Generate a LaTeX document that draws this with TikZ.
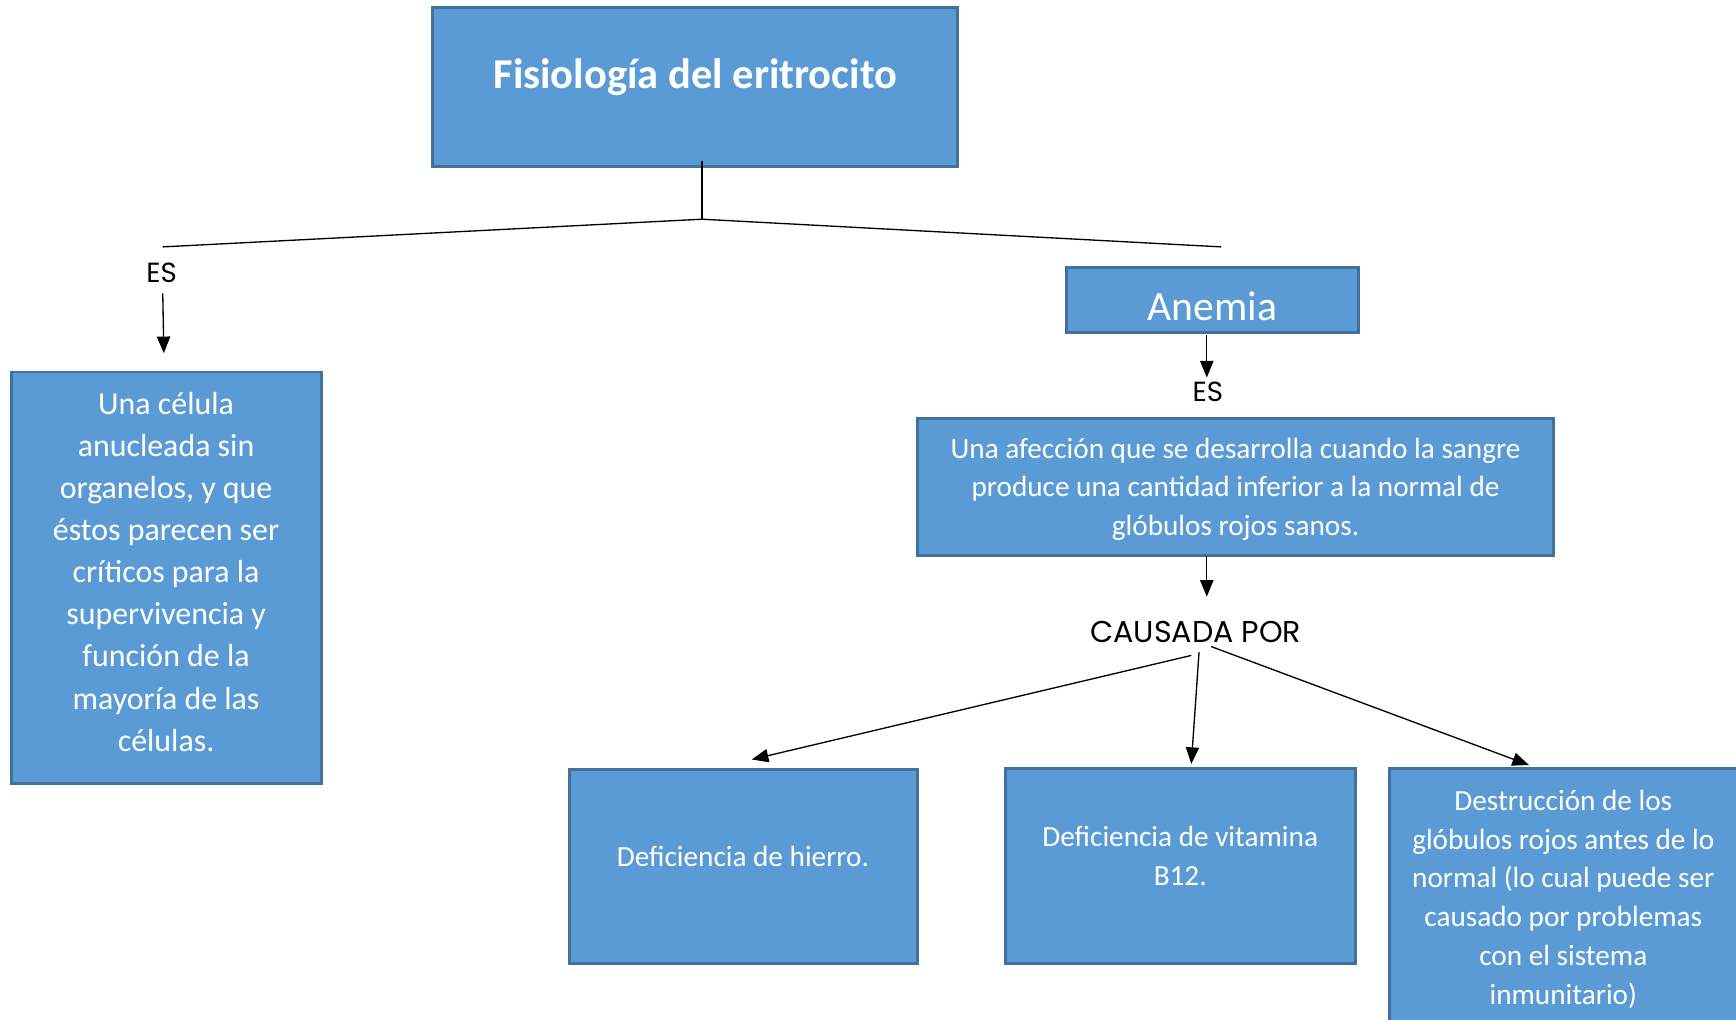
\documentclass[tikz,border=0pt]{standalone}
\usepackage{fontspec}
\setmainfont{Carlito}
\newfontfamily\gothic{Poppins}
\usetikzlibrary{arrows.meta}
\definecolor{boxfill}{HTML}{5B9BD5}
\definecolor{boxline}{HTML}{41719C}
\tikzset{
  box/.style={draw=boxline, fill=boxfill, line width=1.3pt, inner sep=0pt},
  txt/.style={text=white, align=center, inner sep=0pt},
  lbl/.style={inner sep=0pt, font=\gothic\fontsize{12.5}{14}\selectfont},
  conn/.style={line width=0.6pt},
  arr/.style={line width=0.6pt, -{Triangle[length=7.5pt, width=6pt]}},
}
\begin{document}
\begin{tikzpicture}[x=0.5pt, y=-0.5pt]
\useasboundingbox (0,0) rectangle (1568,920.4);
% boxes
\node[box, minimum width=237pt, minimum height=71.5pt] (top) at (628,78.5) {};
\node[txt, font=\bfseries\fontsize{19.2}{23}\selectfont] (toptext) at (628,70) {Fisiología del eritrocito};
\node[box, minimum width=140pt, minimum height=186pt] (left) at (150.5,522) {};
\node[txt, font=\fontsize{14.4}{19}\selectfont] (lefttext) at (150,516.5) {Una célula\\anucleada sin\\organelos, y que\\éstos parecen ser\\críticos para la\\supervivencia y\\función de la\\mayoría de las\\células.};
\node[box, minimum width=132pt, minimum height=29pt] (anemia) at (1095,271) {};
\node[txt, font=\fontsize{18.8}{22}\selectfont] (anemiatext) at (1095,277) {Anemia};
\node[box, minimum width=287pt, minimum height=62pt] (afec) at (1116,440) {};
\node[txt, font=\fontsize{13.2}{17.5}\selectfont] (afectext) at (1116,442) {Una afección que se desarrolla cuando la sangre\\produce una cantidad inferior a la normal de\\glóbulos rojos sanos.};
\node[box, minimum width=157.5pt, minimum height=87.5pt] (hierro) at (671.5,782.5) {};
\node[txt, font=\fontsize{13.2}{17.5}\selectfont] (hierrotext) at (671,774) {Deficiencia de hierro.};
\node[box, minimum width=158pt, minimum height=88pt] (vita) at (1066,782) {};
\node[txt, font=\fontsize{13.2}{17.5}\selectfont] (vitatext) at (1066,773) {Deficiencia de vitamina\\B12.};
\node[box, minimum width=165pt, minimum height=125pt] (destr) at (1420,819) {};
\node[txt, font=\fontsize{13.2}{17.5}\selectfont] (destrtext) at (1412,812) {Destrucción de los\\glóbulos rojos antes de lo\\normal (lo cual puede ser\\causado por problemas\\con el sistema\\inmunitario)};
% labels
\node[lbl] (es1) at (146,246) {ES};
\node[lbl] (es2) at (1091,354) {ES};
\node[lbl, font=\gothic\fontsize{13.6}{15}\selectfont] (causa) at (1080,571) {CAUSADA POR};
% connector points
\coordinate (jt) at (634,145);
\coordinate (j) at (634,198);
\coordinate (lend) at (147,223);
\coordinate (rend) at (1103,223);
\coordinate (a1s) at (147,265);
\coordinate (a1e) at (148,319);
\coordinate (a2s) at (1090,303);
\coordinate (a2e) at (1090,341);
\coordinate (a3s) at (1090,502);
\coordinate (a3e) at (1090,539);
\coordinate (c1s) at (1076,592);
\coordinate (c1e) at (679,686);
\coordinate (c2s) at (1083,589);
\coordinate (c2e) at (1076,690);
\coordinate (c3s) at (1094,584);
\coordinate (c3e) at (1381,691);
% connectors
\draw[conn] (jt) -- (j);
\draw[conn] (j) -- (lend);
\draw[conn] (j) -- (rend);
\draw[arr] (a1s) -- (a1e);
\draw[arr] (a2s) -- (a2e);
\draw[arr] (a3s) -- (a3e);
\draw[arr] (c1s) -- (c1e);
\draw[arr] (c2s) -- (c2e);
\draw[arr] (c3s) -- (c3e);
\end{tikzpicture}
\end{document}
